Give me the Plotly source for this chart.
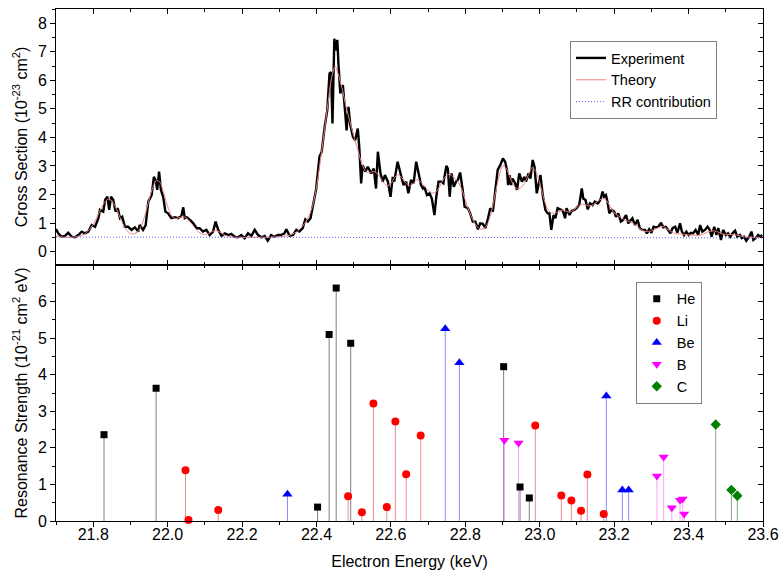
import plotly.graph_objects as go

# ---------------- Top panel data ----------------
exp_E = [21.700,21.706,21.715,21.724,21.733,21.742,21.751,21.760,21.769,21.778,21.787,21.796,21.805,21.814,21.818,21.827,21.832,21.838,21.843,21.848,21.854,21.860,21.866,21.872,21.878,21.885,21.894,21.903,21.912,21.921,21.925,21.934,21.941,21.948,21.957,21.963,21.968,21.972,21.977,21.982,21.988,21.994,22.001,22.010,22.019,22.028,22.037,22.042,22.046,22.052,22.060,22.069,22.078,22.086,22.095,22.104,22.113,22.122,22.129,22.136,22.145,22.154,22.163,22.171,22.180,
         22.189,22.198,22.207,22.216,22.225,22.234,22.243,22.252,22.261,22.269,22.278,22.287,22.296,22.305,22.314,22.319,22.328,22.337,22.346,22.354,22.363,22.370,22.377,22.384,22.390,22.399,22.408,22.414,22.422,22.429,22.435,22.439,22.443,22.447,22.448,22.452,22.456,22.459,22.464,22.471,22.475,22.481,22.486,22.491,22.498,22.504,22.511,22.515,22.520,22.524,22.531,22.538,22.547,22.554,22.560,22.565,22.572,22.578,22.584,22.592,22.599,22.605,22.609,22.618,22.627,22.634,22.641,22.647,22.654,22.661,22.668,
         22.677,22.681,22.686,22.690,22.697,22.704,22.710,22.717,22.722,22.728,22.735,22.741,22.749,22.753,22.758,22.763,22.769,22.775,22.780,22.786,22.793,22.798,22.807,22.813,22.820,22.827,22.834,22.840,22.847,22.854,22.860,22.867,22.874,22.880,22.887,22.894,22.901,22.907,22.912,22.915,22.919,22.923,22.927,22.934,22.939,22.945,22.952,22.959,22.963,22.970,22.975,22.981,22.986,22.992,22.997,23.002,23.008,23.015,23.021,23.026,23.031,23.037,23.042,23.048,23.055,23.062,23.068,23.072,23.080,23.086,23.093,23.099,23.106,23.113,23.117,23.123,23.129,23.135,23.142,23.148,23.156,
         23.160,23.164,23.169,23.173,23.178,23.182,23.187,23.193,23.200,23.205,23.211,23.218,23.224,23.232,23.238,23.245,23.249,23.256,23.263,23.269,23.276,23.283,23.288,23.294,23.300,23.306,23.312,23.319,23.326,23.332,23.339,23.345,23.351,23.357,23.364,23.370,23.377,23.382,23.388,23.394,23.400,23.406,23.412,23.419,23.426,23.431,23.437,23.444,23.451,23.457,23.462,23.469,23.475,23.480,23.487,23.493,23.500,23.506,23.512,23.518,23.525,23.531,23.538,23.543,23.549,23.555,23.563,23.569,23.574,23.580,23.587,23.592,23.598]
exp_cs = [0.79,0.64,0.52,0.55,0.66,0.52,0.50,0.58,0.70,0.64,0.70,0.93,0.87,1.17,1.46,1.40,1.81,1.92,1.46,1.92,1.81,1.40,1.52,1.17,1.22,0.87,0.87,0.76,0.85,0.70,0.93,0.76,0.93,1.75,1.98,2.62,2.50,2.16,2.80,2.16,1.92,1.40,1.34,1.17,1.20,1.17,1.25,1.55,1.17,1.20,1.11,0.99,0.82,0.82,0.70,0.76,0.58,0.70,1.05,0.76,0.55,0.64,0.58,0.62,0.52,
          0.50,0.58,0.47,0.64,0.55,0.76,0.58,0.50,0.55,0.38,0.58,0.52,0.58,0.58,0.64,0.78,0.55,0.58,0.76,0.70,0.82,1.13,1.05,1.17,1.63,2.18,3.32,3.50,4.37,4.95,6.24,6.29,4.49,7.05,7.46,7.05,7.42,6.59,5.54,5.83,5.30,4.25,5.07,4.43,4.02,3.90,4.31,3.67,2.39,3.03,2.80,2.97,2.74,2.91,2.21,3.50,2.74,2.45,2.68,2.45,1.92,2.62,2.45,3.15,2.68,2.33,2.45,2.04,2.51,2.39,3.15,
          2.62,2.33,2.21,2.27,1.98,2.04,1.86,1.28,1.92,2.45,2.45,2.39,3.00,2.91,1.92,2.74,2.27,2.45,2.51,2.77,2.16,1.57,1.52,1.34,1.05,1.05,0.78,0.99,0.97,0.82,1.11,1.52,1.40,2.10,2.86,3.03,3.26,3.15,2.86,2.33,2.68,2.33,2.56,2.39,2.16,2.74,2.45,2.62,2.45,2.74,2.56,3.21,2.97,2.04,2.33,2.68,1.98,1.46,1.34,1.34,0.76,1.28,1.17,1.52,1.48,1.43,1.17,1.52,1.28,1.43,1.46,1.52,1.63,2.21,1.86,1.81,1.48,1.69,1.63,1.75,1.69,
          1.75,1.86,2.10,1.92,1.98,1.75,1.34,1.46,1.40,1.22,1.34,1.05,1.11,1.28,0.99,1.11,1.17,0.93,1.11,0.82,0.76,0.76,0.64,0.78,0.66,0.87,0.85,0.87,1.01,0.85,0.87,0.76,0.64,0.82,0.87,0.66,0.99,0.70,0.58,0.70,0.58,0.66,0.64,0.76,0.58,0.93,0.70,0.76,0.87,0.76,0.52,0.87,0.58,0.82,0.41,0.76,0.58,0.64,0.52,0.64,0.73,0.52,0.58,0.47,0.52,0.38,0.52,0.70,0.41,0.47,0.58,0.52,0.58]

theory_E = [21.70,21.72,21.75,21.77,21.78,21.79,21.80,21.81,21.82,21.83,21.84,21.85,21.86,21.87,21.88,21.89,21.90,21.91,21.92,21.93,21.94,21.95,21.96,21.97,21.98,21.99,22.00,22.01,22.02,22.03,22.04,22.05,22.06,22.07,22.08,22.09,22.10,22.11,22.12,22.13,22.14,22.15,22.16,22.17,22.19,22.25,22.30,22.33,22.35,22.36,22.37,22.38,22.39,22.40,22.41,22.42,22.43,22.44,22.45,22.46,22.47,22.48,22.49,22.50,22.51,22.52,22.53,22.54,22.55,22.56,22.57,22.58,22.59,22.60,22.61,22.62,22.63,22.64,22.65,22.66,22.67,22.68,22.69,22.70,22.71,22.72,22.73,22.74,22.75,22.76,22.77,22.78,22.79,22.80,22.81,22.82,22.83,22.84,22.85,22.86,22.87,22.88,22.89,22.90,22.91,22.92,22.93,22.94,22.95,22.96,22.97,22.98,22.99,23.00,23.01,23.02,23.03,23.04,23.05,23.06,23.07,23.08,23.09,23.10,23.11,23.12,23.13,23.14,23.15,23.16,23.17,23.18,23.19,23.20,23.21,23.22,23.23,23.24,23.25,23.26,23.27,23.28,23.29,23.30,23.31,23.32,23.33,23.34,23.35,23.36,23.37,23.38,23.40,23.42,23.43,23.44,23.45,23.46,23.47,23.48,23.49,23.51,23.53,23.54,23.55,23.57,23.60]
theory_cs = [0.55,0.50,0.51,0.57,0.64,0.78,0.95,1.20,1.48,1.72,1.84,1.78,1.56,1.26,0.97,0.74,0.63,0.62,0.70,0.92,1.32,1.82,2.25,2.50,2.42,2.02,1.58,1.27,1.16,1.18,1.23,1.18,1.05,0.88,0.73,0.63,0.60,0.63,0.71,0.74,0.69,0.60,0.54,0.51,0.50,0.50,0.52,0.58,0.72,0.85,1.02,1.25,1.62,2.25,3.15,4.10,5.10,6.05,6.50,6.15,5.65,5.05,4.55,4.05,3.62,3.15,2.85,2.75,2.80,2.78,2.62,2.42,2.30,2.38,2.60,2.70,2.58,2.40,2.30,2.38,2.52,2.45,2.28,2.15,2.05,2.08,2.25,2.50,2.68,2.70,2.58,2.45,2.20,1.80,1.42,1.12,0.90,0.79,0.80,0.98,1.38,2.00,2.60,3.00,2.92,2.60,2.32,2.20,2.25,2.42,2.70,2.95,2.80,2.40,1.90,1.52,1.36,1.35,1.40,1.45,1.42,1.38,1.45,1.55,1.65,1.66,1.60,1.62,1.70,1.80,1.86,1.78,1.56,1.36,1.26,1.18,1.10,1.05,1.00,0.90,0.80,0.72,0.70,0.72,0.78,0.85,0.88,0.82,0.72,0.65,0.62,0.62,0.58,0.57,0.58,0.62,0.68,0.72,0.72,0.68,0.62,0.60,0.58,0.54,0.52,0.50,0.50]

rr_E = [21.70, 22.30, 22.70, 23.00, 23.60]
rr_cs = [0.51, 0.50, 0.50, 0.48, 0.48]

# ---------------- Bottom panel data (resonance strengths) ----------------
he_E = [21.829, 21.969, 22.403, 22.434, 22.453, 22.492, 22.903, 22.947, 22.972]
he_S = [2.36, 3.63, 0.38, 5.10, 6.37, 4.86, 4.22, 0.93, 0.63]
li_E = [22.048, 22.056, 22.136, 22.485, 22.522, 22.553, 22.589, 22.612, 22.641, 22.680, 22.988, 23.058, 23.085, 23.111, 23.128, 23.172]
li_S = [1.39, 0.03, 0.30, 0.68, 0.24, 3.21, 0.38, 2.72, 1.28, 2.34, 2.61, 0.70, 0.56, 0.28, 1.27, 0.19]
be_E = [22.322, 22.746, 22.784, 23.179, 23.222, 23.239]
be_S = [0.73, 5.26, 4.33, 3.42, 0.85, 0.85]
b_E = [22.905, 22.943, 23.315, 23.333, 23.355, 23.377, 23.384, 23.388]
b_S = [2.21, 2.13, 1.23, 1.75, 0.36, 0.57, 0.60, 0.19]
c_E = [23.473, 23.515, 23.531]
c_S = [2.64, 0.85, 0.69]

series = [
    ("He", he_E, he_S, "#000000", "#808080", "square", 7),
    ("Li", li_E, li_S, "#ff0000", "#f08a8a", "circle", 8),
    ("Be", be_E, be_S, "#0000ff", "#8a8aff", "triangle-up", 9),
    ("B", b_E, b_S, "#ff00ff", "#ffa0ff", "triangle-down", 9),
    ("C", c_E, c_S, "#008000", "#80a880", "diamond", 8),
]

FONT = "Liberation Sans, Arial, sans-serif"
fig = go.Figure()

# top panel
fig.add_trace(go.Scatter(x=exp_E, y=exp_cs, mode="lines", name="Experiment",
                         line=dict(color="black", width=2.4), xaxis="x", yaxis="y"))
fig.add_trace(go.Scatter(x=theory_E, y=theory_cs, mode="lines", name="Theory",
                         line=dict(color="#f08080", width=1, shape="spline", smoothing=0.6),
                         xaxis="x", yaxis="y"))
fig.add_trace(go.Scatter(x=rr_E, y=rr_cs, mode="lines", name="RR contribution",
                         line=dict(color="#5a5aff", width=1, dash="1px,2px"), xaxis="x", yaxis="y"))

# bottom panel stems + markers
for name, E, S, col, stemcol, sym, size in series:
    sx, sy = [], []
    for e, s in zip(E, S):
        sx += [e, e, None]
        sy += [0, s, None]
    fig.add_trace(go.Scatter(x=sx, y=sy, mode="lines", line=dict(color=stemcol, width=1),
                             showlegend=False, hoverinfo="skip", xaxis="x2", yaxis="y2"))
for name, E, S, col, stemcol, sym, size in series:
    fig.add_trace(go.Scatter(x=E, y=S, mode="markers", name=name, legend="legend2",
                             marker=dict(color=col, symbol=sym, size=size, line=dict(width=0)),
                             cliponaxis=False, xaxis="x2", yaxis="y2"))

# dummy traces to activate mirror axes
fig.add_trace(go.Scatter(x=[None], y=[None], xaxis="x3", yaxis="y3", showlegend=False, hoverinfo="skip"))
fig.add_trace(go.Scatter(x=[None], y=[None], xaxis="x4", yaxis="y4", showlegend=False, hoverinfo="skip"))

XR = [21.7, 23.6]
common = dict(showline=True, linecolor="black", linewidth=1, showgrid=False, zeroline=False,
              automargin=False,
              tickcolor="black", tickwidth=1, tickfont=dict(family=FONT, size=16, color="black"))

fig.update_layout(
    width=780, height=573,
    margin=dict(l=56, r=17, t=9, b=52, autoexpand=False),
    paper_bgcolor="white", plot_bgcolor="white",
    font=dict(family=FONT, size=16, color="black"),
    xaxis=dict(domain=[0, 1], anchor="y", range=XR, ticks="inside", ticklen=5, dtick=0.2, tick0=21.8,
               minor=dict(dtick=0.1, ticklen=3, ticks="inside", tickcolor="black"),
               showticklabels=False, **common),
    yaxis=dict(domain=[0.5, 1], anchor="x", range=[-0.47, 8.5], ticks="outside", ticklen=5, dtick=1, tick0=0,
               minor=dict(dtick=0.5, ticklen=3, ticks="outside", tickcolor="black"),
               title=dict(text="Cross Section (10<sup>-23</sup> cm<sup>2</sup>)", standoff=6,
                          font=dict(family=FONT, size=16)), **common),
    xaxis3=dict(overlaying="x", anchor="y3", side="top", range=XR, ticks="inside", ticklen=5, dtick=0.2, tick0=21.8,
                minor=dict(dtick=0.1, ticklen=3, ticks="inside", tickcolor="black"),
                showticklabels=False, **common),
    yaxis3=dict(overlaying="y", anchor="x3", side="right", range=[-0.47, 8.5], ticks="inside", ticklen=5, dtick=1, tick0=0,
                minor=dict(dtick=0.5, ticklen=3, ticks="inside", tickcolor="black"),
                showticklabels=False, **common),
    xaxis2=dict(domain=[0, 1], anchor="y2", range=XR, ticks="outside", ticklen=5, dtick=0.2, tick0=21.8,
                tickformat=".1f", ticklabelstandoff=-6,
                minor=dict(dtick=0.1, ticklen=3, ticks="outside", tickcolor="black"),
                title=dict(text="Electron Energy (keV)", standoff=13, font=dict(family=FONT, size=16)), **common),
    yaxis2=dict(domain=[0, 0.5], anchor="x2", range=[0, 7], ticks="outside", ticklen=5,
                tickmode="array", tickvals=[0, 1, 2, 3, 4, 5, 6],
                minor=dict(tickvals=[0.5, 1.5, 2.5, 3.5, 4.5, 5.5, 6.5], ticklen=3, ticks="outside", tickcolor="black"),
                title=dict(text="Resonance Strength (10<sup>-21</sup> cm<sup>2</sup> eV)", standoff=6,
                           font=dict(family=FONT, size=16)), **common),
    xaxis4=dict(overlaying="x2", anchor="y4", side="top", range=XR, ticks="inside", ticklen=5, dtick=0.2, tick0=21.8,
                minor=dict(dtick=0.1, ticklen=3, ticks="inside", tickcolor="black"),
                showticklabels=False, **common),
    yaxis4=dict(overlaying="y2", anchor="x4", side="right", range=[0, 7], ticks="inside", ticklen=5,
                tickmode="array", tickvals=[0, 1, 2, 3, 4, 5, 6],
                minor=dict(tickvals=[0.5, 1.5, 2.5, 3.5, 4.5, 5.5, 6.5], ticklen=3, ticks="inside", tickcolor="black"),
                showticklabels=False, **common),
    legend=dict(x=0.727, y=0.9375, xanchor="left", yanchor="top", bgcolor="white",
                bordercolor="#808080", borderwidth=1, font=dict(family=FONT, size=14.5, color="black"),
                tracegroupgap=0, itemwidth=30),
    legend2=dict(x=0.82, y=0.467, xanchor="left", yanchor="top", bgcolor="white",
                 bordercolor="#808080", borderwidth=1, font=dict(family=FONT, size=14.5, color="black"),
                 tracegroupgap=0, itemwidth=30),
    showlegend=True,
)

fig.write_html("out.html", config={"displayModeBar": False},
               post_script="document.body.style.margin='0';document.body.style.padding='0';"
                           "document.body.style.overflow='hidden';")
